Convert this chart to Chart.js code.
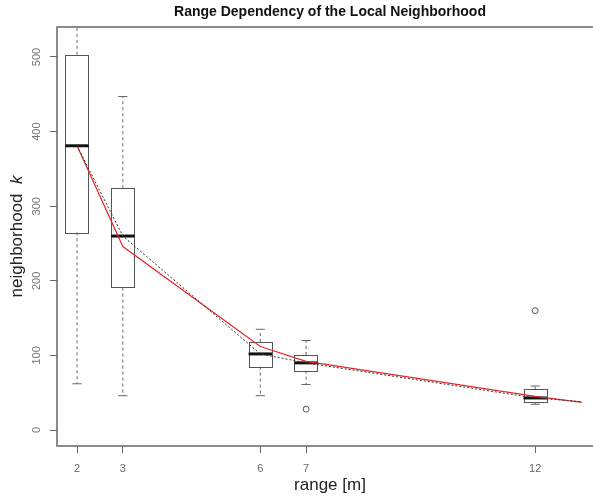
<!DOCTYPE html>
<html>
<head>
<meta charset="utf-8">
<script src="https://cdn.jsdelivr.net/npm/chart.js@4.4.1/dist/chart.umd.min.js"></script>
<style>
	html, body { margin: 0; padding: 0; background: #fff; overflow: hidden; }
	#wrap { width: 593px; height: 496px; overflow: hidden; }
</style>
</head>
<body>
<div id="wrap"><canvas id="rangeChart" width="620" height="496"></canvas></div>
<script>
// box plot per range
let ranges = [2, 3, 6, 7, 12];
let whiskerLow = [62, 46, 46, 61, 34.5];
let q1 = [265, 191, 85, 79.5, 37];
let median = [381, 260, 102, 90, 43];
let q3 = [503, 324, 118, 100.5, 54.5];
let whiskerHigh = [560, 447, 135, 120, 59];

// outliers
let outlierX = [7, 12];
let outlierY = [28, 160];

// red fitted line
let fitX = [2, 3, 6, 7, 12, 13.02];
let fitY = [381, 246, 112, 92, 45, 37];

// dotted line
let trendX = [2, 3, 6, 7, 12, 13.02];
let trendY = [381, 260, 102, 90, 43, 38];

let yTicks = [0, 100, 200, 300, 400, 500];

const BOX_HALF = 0.255;
const CAP_HALF = 0.1;
const FONT = '"Liberation Sans", Arial, Helvetica, sans-serif';

let toPoints = function (xs, ys) {
	return xs.map((v, i) => ({ x: v, y: ys[i] }));
};

let seg = function (ctx, x1, y1, x2, y2) {
	ctx.beginPath();
	ctx.moveTo(x1, y1);
	ctx.lineTo(x2, y2);
	ctx.stroke();
};

const boxPlot = {
	id: 'boxPlot',
	beforeDatasetsDraw(chart) {
		const { ctx, chartArea: a, scales: { x, y } } = chart;
		ctx.save();
		ctx.beginPath();
		ctx.rect(a.left, a.top, a.right - a.left, a.bottom - a.top);
		ctx.clip();
		ranges.forEach((r, i) => {
			let xc = x.getPixelForValue(r);
			let xl = x.getPixelForValue(r - BOX_HALF), xr = x.getPixelForValue(r + BOX_HALF);
			let cl = x.getPixelForValue(r - CAP_HALF), cr = x.getPixelForValue(r + CAP_HALF);
			let yLo = y.getPixelForValue(whiskerLow[i]), yHi = y.getPixelForValue(whiskerHigh[i]);
			let y1 = y.getPixelForValue(q1[i]), y3 = y.getPixelForValue(q3[i]);
			let ym = y.getPixelForValue(median[i]);

			ctx.strokeStyle = '#666';
			ctx.lineWidth = 1;
			ctx.setLineDash([3, 3]);
			seg(ctx, xc, y3, xc, yHi);
			seg(ctx, xc, y1, xc, yLo);
			ctx.setLineDash([]);
			seg(ctx, cl, yHi, cr, yHi);
			seg(ctx, cl, yLo, cr, yLo);

			ctx.strokeStyle = '#555';
			ctx.strokeRect(Math.round(xl) + 0.5, Math.round(y3) + 0.5, Math.round(xr - xl), Math.round(y1 - y3));

			ctx.strokeStyle = '#111';
			ctx.lineWidth = 3;
			seg(ctx, xl, ym, xr, ym);
		});
		ctx.restore();
	},
	afterDraw(chart) {
		const { ctx, chartArea: a, scales: { y } } = chart;
		let cx = (a.left + a.right) / 2;
		ctx.save();

		// frame
		ctx.strokeStyle = '#666';
		ctx.lineWidth = 1.5;
		ctx.strokeRect(a.left, a.top, a.right - a.left, a.bottom - a.top);

		// title
		ctx.fillStyle = '#111';
		ctx.font = 'bold 14px ' + FONT;
		ctx.textAlign = 'center';
		ctx.textBaseline = 'middle';
		ctx.fillText('Range Dependency of the Local Neighborhood', cx, 12.5);

		// x title
		ctx.fillStyle = '#222';
		ctx.font = '17px ' + FONT;
		ctx.fillText('range [m]', cx, 485);

		// y tick labels, rotated
		ctx.fillStyle = '#777';
		ctx.font = '11px ' + FONT;
		yTicks.forEach(v => {
			ctx.save();
			ctx.translate(37, y.getPixelForValue(v));
			ctx.rotate(-Math.PI / 2);
			ctx.fillText(String(v), 0, 0);
			ctx.restore();
		});

		// y title with italic k
		ctx.save();
		ctx.translate(17, (a.top + a.bottom) / 2);
		ctx.rotate(-Math.PI / 2);
		ctx.fillStyle = '#222';
		ctx.textAlign = 'left';
		ctx.font = '17px ' + FONT;
		let t1 = 'neighborhood  ';
		let w1 = ctx.measureText(t1).width;
		ctx.font = 'italic 17px ' + FONT;
		let w2 = ctx.measureText('k').width;
		let start = -(w1 + w2) / 2;
		ctx.font = '17px ' + FONT;
		ctx.fillText(t1, start, 0);
		ctx.font = 'italic 17px ' + FONT;
		ctx.fillText('k', start + w1, 0);
		ctx.restore();

		ctx.restore();
	}
};

let chart = new Chart('rangeChart', {
	type: 'scatter',
	data: {
		datasets: [{
			data: toPoints(trendX, trendY),
			showLine: true,
			borderColor: '#333',
			borderWidth: 1,
			borderDash: [2, 2],
			pointRadius: 0
		}, {
			data: toPoints(fitX, fitY),
			showLine: true,
			borderColor: '#e2282c',
			borderWidth: 1.2,
			pointRadius: 0
		}, {
			data: toPoints(outlierX, outlierY),
			pointRadius: 3,
			pointBorderColor: '#555',
			pointBackgroundColor: 'rgba(0,0,0,0)',
			pointBorderWidth: 1
		}]
	},
	options: {
		responsive: false,
		animation: false,
		layout: { padding: { left: 0, right: 17, top: 27, bottom: 0 } },
		plugins: { legend: { display: false }, tooltip: { enabled: false }, title: { display: false } },
		scales: {
			x: {
				type: 'linear',
				min: 1.563,
				max: 13.48,
				afterBuildTicks: scale => { scale.ticks = ranges.map(v => ({ value: v })); },
				afterFit: scale => { scale.height = 50; },
				border: { display: false },
				grid: { drawOnChartArea: false, drawTicks: true, tickLength: 7, color: '#666' },
				ticks: { color: '#666', padding: 9, font: { size: 11, family: FONT }, maxRotation: 0 }
			},
			y: {
				type: 'linear',
				min: -21.4,
				max: 540.2,
				afterBuildTicks: scale => { scale.ticks = yTicks.map(v => ({ value: v })); },
				afterFit: scale => { scale.width = 57; },
				border: { display: false },
				grid: { drawOnChartArea: false, drawTicks: true, tickLength: 7, color: '#666' },
				ticks: { display: false }
			}
		}
	},
	plugins: [boxPlot]
});
</script>
</body>
</html>
